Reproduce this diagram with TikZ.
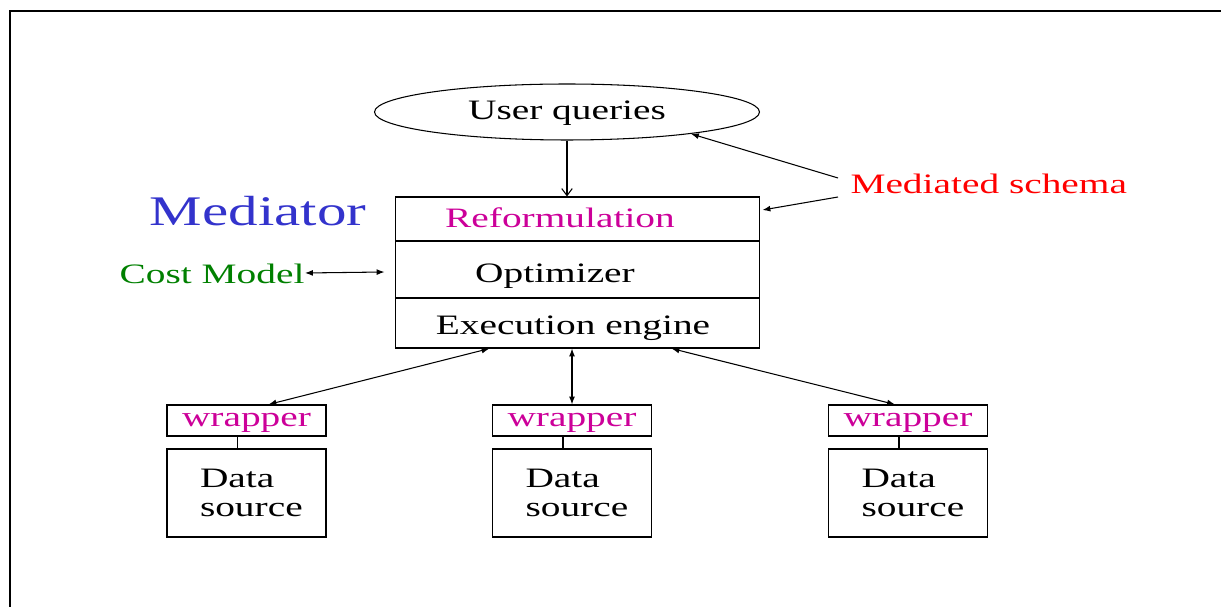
\documentclass[tikz,border=0pt]{standalone}
\usepackage{fontspec}
\setmainfont{Liberation Serif}[FakeStretch=1.4]
\usepackage{tikz}
\usetikzlibrary{shapes.geometric}
\usetikzlibrary{arrows.meta,calc}
\usepackage{xcolor}
\definecolor{reformcol}{RGB}{204,0,153}
\definecolor{medblue}{RGB}{51,51,204}
\definecolor{costgreen}{RGB}{0,128,0}
\newcommand{\lblfont}{\fontsize{16}{17}\selectfont}
\newcommand{\medfont}{\fontsize{24}{28}\selectfont}

\begin{document}
\begin{tikzpicture}[x=0.02cm,y=-0.02cm,line width=0.6pt,
  box/.style={draw,rectangle,minimum width=7.3cm,inner sep=0},
  wrap/.style={draw,rectangle,minimum width=3.18cm,minimum height=0.62cm,inner sep=0,font=\lblfont,text=reformcol,text height=10.9pt,text depth=3.5pt},
  src/.style={draw,rectangle,minimum width=3.18cm,minimum height=1.76cm,inner sep=0,font=\lblfont,text width=1.86cm,align=left},
  txt/.style={inner sep=0,font=\lblfont},
  tip/.style={-{Latex[length=4.5pt,width=3.4pt]}},
  vtip/.style={-{Straight Barb[length=4pt,width=6pt]}},
  twoway/.style={{Latex[length=4.5pt,width=3.4pt]}-{Latex[length=4.5pt,width=3.4pt]}}]
\useasboundingbox (0,0) rectangle (1221,607);
\draw[line width=1.2pt] (10,607)--(10,11)--(1221,11);
% top
\node[draw,ellipse,minimum width=7.7cm,minimum height=1.12cm,inner sep=0,font=\lblfont,text height=12.5pt,text depth=3.5pt] (uq) at (567,112) {User queries};
% mediator
\node[box,minimum height=0.88cm] (rf) at (577.5,219) {};
\node[box,minimum height=1.14cm] (op) at (577.5,269.5) {};
\node[box,minimum height=1cm] (ex) at (577.5,323) {};
\node[txt,text=reformcol] (rft) at (560,218) {Reformulation};
\node[txt] (opt) at (555,276) {Optimizer};
\node[txt] (ext) at (573,328) {Execution engine};
\node[inner sep=0,font=\medfont,text=medblue] (med) at (258,211) {Mediator};
\node[txt,text=costgreen,anchor=east] (cm) at (305,274) {Cost Model};
\node[txt,text=red,anchor=west] (ms) at (850,184) {Mediated schema};
% sources
\node[wrap] (w1) at (246.5,420.5) {wrapper};
\node[wrap] (w2) at (572,420.5) {wrapper};
\node[wrap] (w3) at (908,420.5) {wrapper};
\node[src] (d1) at (246.5,493) {Data\\source};
\node[src] (d2) at (572,493) {Data\\source};
\node[src] (d3) at (908,493) {Data\\source};
% arrows
\draw[vtip] (uq.south)--(uq.south |- rf.north);
\draw[tip] ($(ms.west)+(-12,-6)$)--(uq.-10);
\draw[tip] ($(ms.west)+(-12,13)$)--($(rf.east)+(2,-9)$);
\draw[twoway] ($(cm.east)+(0,-1)$)--($(op.west)+(-10,2.5)$);
\draw[twoway] ($(ex.south west)+(95,0)$)--($(w1.north)+(22,0)$);
\draw[twoway] (w2.north |- ex.south)--(w2.north);
\draw[twoway] ($(ex.south west)+(277,0)$)--($(w3.north)+(-13,0)$);
\draw ($(w1.south)+(-9,0)$)--($(d1.north)+(-9,0)$);
\draw ($(w2.south)+(-9,0)$)--($(d2.north)+(-9,0)$);
\draw ($(w3.south)+(-9,0)$)--($(d3.north)+(-9,0)$);
\end{tikzpicture}
\end{document}
